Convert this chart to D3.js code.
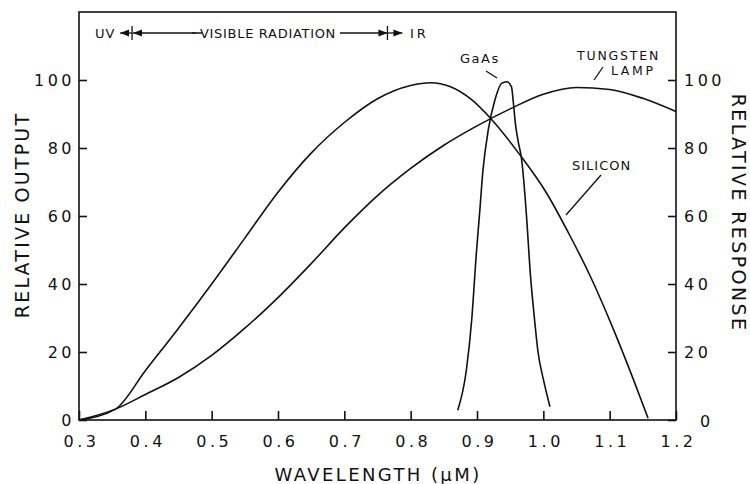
<!DOCTYPE html>
<html>
<head>
<meta charset="utf-8">
<style>
  body { margin: 0; background: #fff; }
  svg { display: block; font-family: "DejaVu Sans", sans-serif; }
  .curve { fill: none; stroke: #111; stroke-width: 1.6; }
  .frame { fill: none; stroke: #111; stroke-width: 1.6; }
  .axis path { display: none; }
  .axis line { stroke: #111; stroke-width: 1.6; }
  .axis text { font-family: "DejaVu Sans", sans-serif; font-size: 16px; letter-spacing: 3.5px; fill: #111; }
  .title { font-size: 19px; fill: #111; }
  .note { font-size: 13px; fill: #111; }
  .lead { stroke: #111; stroke-width: 1.3; fill: none; }
</style>
<title>Relative output / response vs wavelength</title>
</head>
<body>
<script src="https://cdn.jsdelivr.net/npm/d3@7/dist/d3.min.js"></script>
<script>

// wavelength (uM), relative value
var silicon = [
  [0.300, 0], [0.355, 3.2], [0.400, 14.5], [0.450, 27], [0.500, 40],
  [0.550, 53.5], [0.600, 67], [0.650, 78.5], [0.700, 87.5], [0.750, 94.5],
  [0.800, 98.4], [0.830, 99.2], [0.860, 98], [0.890, 94.5], [0.922, 88.4],
  [0.965, 77.9], [1.005, 66.7], [1.038, 55], [1.071, 42.2], [1.106, 26.5],
  [1.136, 11.8], [1.158, 0.5]
];

var tungstenLamp = [
  [0.300, 0], [0.355, 3.2], [0.400, 7.5], [0.450, 12.5], [0.500, 19],
  [0.550, 27], [0.600, 36], [0.650, 46], [0.700, 56.5], [0.750, 66],
  [0.800, 74], [0.850, 80.8], [0.900, 86.5], [0.950, 91.5], [1.000, 95.8],
  [1.050, 97.8], [1.100, 97.2], [1.150, 94.6], [1.200, 90.7]
];

var gaAs = [
  [0.871, 2.9], [0.884, 14.7], [0.892, 29.4], [0.899, 49], [0.904, 61],
  [0.909, 73.5], [0.917, 85.3], [0.927, 94.1], [0.937, 99], [0.945, 99.5],
  [0.952, 98], [0.955, 93], [0.958, 87], [0.962, 82], [0.967, 77],
  [0.975, 59], [0.980, 44], [0.986, 31], [0.992, 20], [1.000, 12], [1.010, 3.9]
];

var wavelengthTicks = [0.3, 0.4, 0.5, 0.6, 0.7, 0.8, 0.9, 1.0, 1.1, 1.2];
var valueTicks = [0, 20, 40, 60, 80, 100];

// band edges: UV | visible | IR
var bandEdges = [0.38, 0.765];

var width = 750, height = 484;
var plotLeft = 79, plotRight = 676, plotTop = 12, plotBottom = 420;

var svg = d3.select("body").append("svg")
    .attr("width", width)
    .attr("height", height);

var x = d3.scaleLinear().domain([0.3, 1.2]).range([plotLeft, plotRight]);
var y = d3.scaleLinear().domain([0, 100]).range([plotBottom, 80]);

var defs = svg.append("defs");
defs.append("marker")
    .attr("id", "head")
    .attr("viewBox", "0 -4 9 8")
    .attr("refX", 9)
    .attr("refY", 0)
    .attr("markerUnits", "userSpaceOnUse")
    .attr("markerWidth", 9)
    .attr("markerHeight", 8)
    .attr("orient", "auto")
  .append("path")
    .attr("d", "M0,-3.5L9,0L0,3.5Z")
    .attr("fill", "#111");

// frame
svg.append("rect")
    .attr("class", "frame")
    .attr("x", plotLeft)
    .attr("y", plotTop)
    .attr("width", plotRight - plotLeft)
    .attr("height", plotBottom - plotTop);

// axes, ticks pointing inward
var fmt = d3.format(".1f");

svg.append("g")
    .attr("class", "axis")
    .attr("transform", "translate(0," + plotBottom + ")")
    .call(d3.axisBottom(x).tickValues(wavelengthTicks).tickFormat(fmt)
      .tickSizeInner(-9).tickSizeOuter(0).tickPadding(16))
  .selectAll("text")
    .attr("dx", "2px");

svg.append("g")
    .attr("class", "axis")
    .attr("transform", "translate(" + plotLeft + ",0)")
    .call(d3.axisLeft(y).tickValues(valueTicks)
      .tickSizeInner(-8).tickSizeOuter(0).tickPadding(4));

var rightAxis = svg.append("g")
    .attr("class", "axis")
    .attr("transform", "translate(" + plotRight + ",0)")
    .call(d3.axisRight(y).tickValues(valueTicks)
      .tickSizeInner(-8).tickSizeOuter(0).tickPadding(8));
rightAxis.selectAll(".tick")
    .filter(d => d === 0)
    .select("text")
    .attr("dx", "16px")
    .attr("dy", "0.4em");

// curves
var line = d3.line()
    .x(d => x(d[0]))
    .y(d => y(d[1]))
    .curve(d3.curveMonotoneX);

svg.selectAll(".curve")
    .data([silicon, tungstenLamp, gaAs])
    .enter().append("path")
    .attr("class", "curve")
    .attr("d", line);

// axis titles
svg.append("text")
    .attr("class", "title")
    .attr("x", 378)
    .attr("y", 481)
    .attr("text-anchor", "middle")
    .style("font-size", "18px")
    .style("letter-spacing", "2.4px")
    .text("WAVELENGTH (\u03BCM)");

svg.append("text")
    .attr("class", "title")
    .attr("transform", "translate(22,215) rotate(-90)")
    .attr("dy", "0.36em")
    .attr("text-anchor", "middle")
    .style("letter-spacing", "2.2px")
    .text("RELATIVE OUTPUT");

svg.append("text")
    .attr("class", "title")
    .attr("transform", "translate(739,213) rotate(90)")
    .attr("dy", "0.36em")
    .attr("text-anchor", "middle")
    .style("letter-spacing", "2.4px")
    .text("RELATIVE RESPONSE");

// spectrum band markers
var bandY = 33;
svg.selectAll(".edge")
    .data(bandEdges)
    .enter().append("line")
    .attr("class", "lead")
    .attr("x1", d => x(d)).attr("x2", d => x(d))
    .attr("y1", bandY - 7).attr("y2", bandY + 7);

var arrows = [
  [x(bandEdges[0]), x(bandEdges[0]) - 12],
  [x(bandEdges[0]) + 70, x(bandEdges[0]) + 1],
  [340, x(bandEdges[1])],
  [x(bandEdges[1]), x(bandEdges[1]) + 15]
];
svg.selectAll(".arrow")
    .data(arrows)
    .enter().append("line")
    .attr("class", "lead")
    .attr("x1", d => d[0]).attr("x2", d => d[1])
    .attr("y1", bandY).attr("y2", bandY)
    .attr("marker-end", "url(#head)");

svg.append("line")
    .attr("class", "lead")
    .attr("x1", x(bandEdges[0]) + 60).attr("x2", 196)
    .attr("y1", bandY).attr("y2", bandY);

svg.append("text").attr("class", "note")
    .attr("x", 95).attr("y", bandY + 5)
    .style("letter-spacing", "1px")
    .text("UV");
svg.append("text").attr("class", "note")
    .attr("x", 268).attr("y", bandY + 5)
    .attr("text-anchor", "middle")
    .style("letter-spacing", "0.7px")
    .text("VISIBLE RADIATION");
svg.append("text").attr("class", "note")
    .attr("x", 410).attr("y", bandY + 5)
    .style("letter-spacing", "3px")
    .text("IR");

// curve labels
svg.append("text").attr("class", "note")
    .attr("x", 460).attr("y", 63)
    .style("letter-spacing", "1.5px")
    .text("GaAs");
svg.append("line").attr("class", "lead")
    .attr("x1", 486).attr("y1", 71).attr("x2", 497).attr("y2", 78);

svg.append("text").attr("class", "note")
    .attr("x", 577).attr("y", 60)
    .style("font-size", "12.5px")
    .style("letter-spacing", "1.8px")
    .text("TUNGSTEN");
svg.append("text").attr("class", "note")
    .attr("x", 611).attr("y", 75)
    .style("font-size", "12.5px")
    .style("letter-spacing", "2.6px")
    .text("LAMP");
svg.append("line").attr("class", "lead")
    .attr("x1", 594).attr("y1", 80).attr("x2", 603).attr("y2", 67);

svg.append("text").attr("class", "note")
    .attr("x", 572).attr("y", 170)
    .style("letter-spacing", "1px")
    .text("SILICON");
svg.append("line").attr("class", "lead")
    .attr("x1", 601).attr("y1", 175).attr("x2", 566).attr("y2", 215);

</script>
</body>
</html>
